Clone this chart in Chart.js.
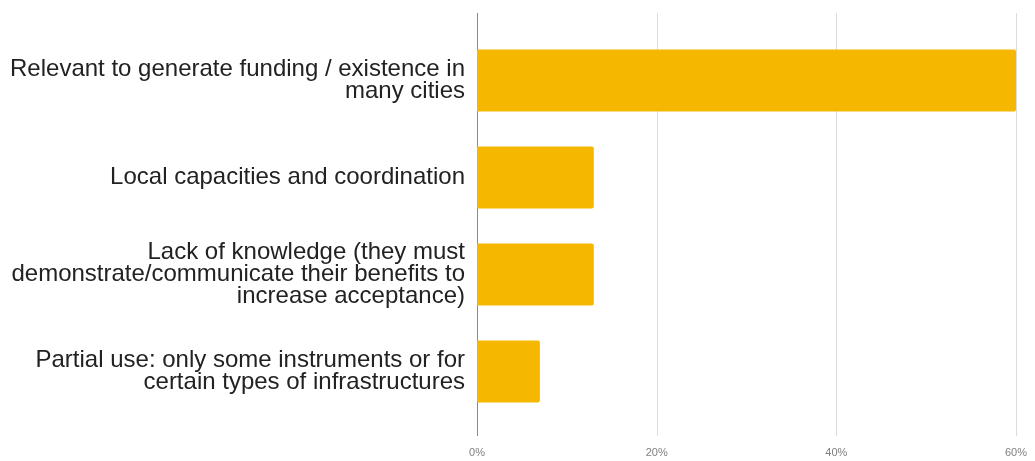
<!DOCTYPE html>
<html>
<head>
<meta charset="utf-8">
<script src="https://cdn.jsdelivr.net/npm/chart.js@4.4.1/dist/chart.umd.min.js"></script>
<style>
    html, body { margin: 0; padding: 0; background: #fff; }
    #wrap { position: relative; width: 1035px; height: 461px; }
</style>
</head>
<body>
<div id="wrap"><canvas id="barriers-chart"></canvas></div>
<script>
// Categories (multi-line labels) and share of answers in percent
const categories = [
    ['Relevant to generate funding / existence in', 'many cities'],
    ['Local capacities and coordination'],
    ['Lack of knowledge (they must', 'demonstrate/communicate their benefits to', 'increase acceptance)'],
    ['Partial use: only some instruments or for', 'certain types of infrastructures']
];
const shares = [60, 13, 13, 7];
const xTicks = [0, 20, 40, 60];

const BAR_COLOR = '#F5B700';
const FONT = 'Liberation Sans, Arial, sans-serif';

// Vertical gridlines run a bit past the plot area, like the sheet export
const gridPlugin = {
    id: 'extendedGrid',
    beforeDatasetsDraw(chart) {
        const { ctx, chartArea, scales } = chart;
        const xScale = scales.x;
        ctx.save();
        ctx.lineWidth = 1;
        xTicks.forEach(v => {
            const px = Math.round(xScale.getPixelForValue(v)) + 0.5;
            ctx.strokeStyle = v === 0 ? '#8a8a8a' : '#dcdcdc';
            ctx.beginPath();
            ctx.moveTo(px, chartArea.top - 19);
            ctx.lineTo(px, chartArea.bottom + 16);
            ctx.stroke();
        });
        ctx.restore();
    }
};

// drop the automatic label overhang so the plot area is set by layout.padding only
function noOverhang(scale) {
    scale.paddingTop = 0;
    scale.paddingBottom = 0;
    scale.paddingLeft = 0;
    scale.paddingRight = 0;
}

const ctx = document.getElementById('barriers-chart').getContext('2d');

new Chart(ctx, {
    type: 'bar',
    data: {
        labels: categories,
        datasets: [{
            data: shares,
            backgroundColor: BAR_COLOR,
            borderWidth: 0,
            borderRadius: 2,
            borderSkipped: 'start',
            barPercentage: 0.8,
            categoryPercentage: 0.8
        }]
    },
    options: {
        indexAxis: 'y',
        responsive: true,
        maintainAspectRatio: false,
        animation: false,
        layout: {
            padding: { top: 32, right: 19, bottom: 1, left: 0 }
        },
        plugins: {
            legend: { display: false },
            tooltip: { enabled: false }
        },
        scales: {
            x: {
                min: 0,
                max: 60,
                afterBuildTicks(scale) {
                    scale.ticks = xTicks.map(v => ({ value: v }));
                },
                afterFit(scale) {
                    noOverhang(scale);
                    scale.height = 40;
                },
                grid: { display: false, drawTicks: false },
                border: { display: false },
                ticks: {
                    padding: 26,
                    color: '#808080',
                    font: { family: FONT, size: 11 },
                    maxRotation: 0,
                    callback: v => v + '%'
                }
            },
            y: {
                afterFit(scale) {
                    noOverhang(scale);
                    scale.width = 477;
                },
                grid: { display: false, drawTicks: false },
                border: { display: false },
                ticks: {
                    padding: 12,
                    color: '#222',
                    font: { family: FONT, size: 24, lineHeight: '22px' }
                }
            }
        }
    },
    plugins: [gridPlugin]
});
</script>
</body>
</html>
